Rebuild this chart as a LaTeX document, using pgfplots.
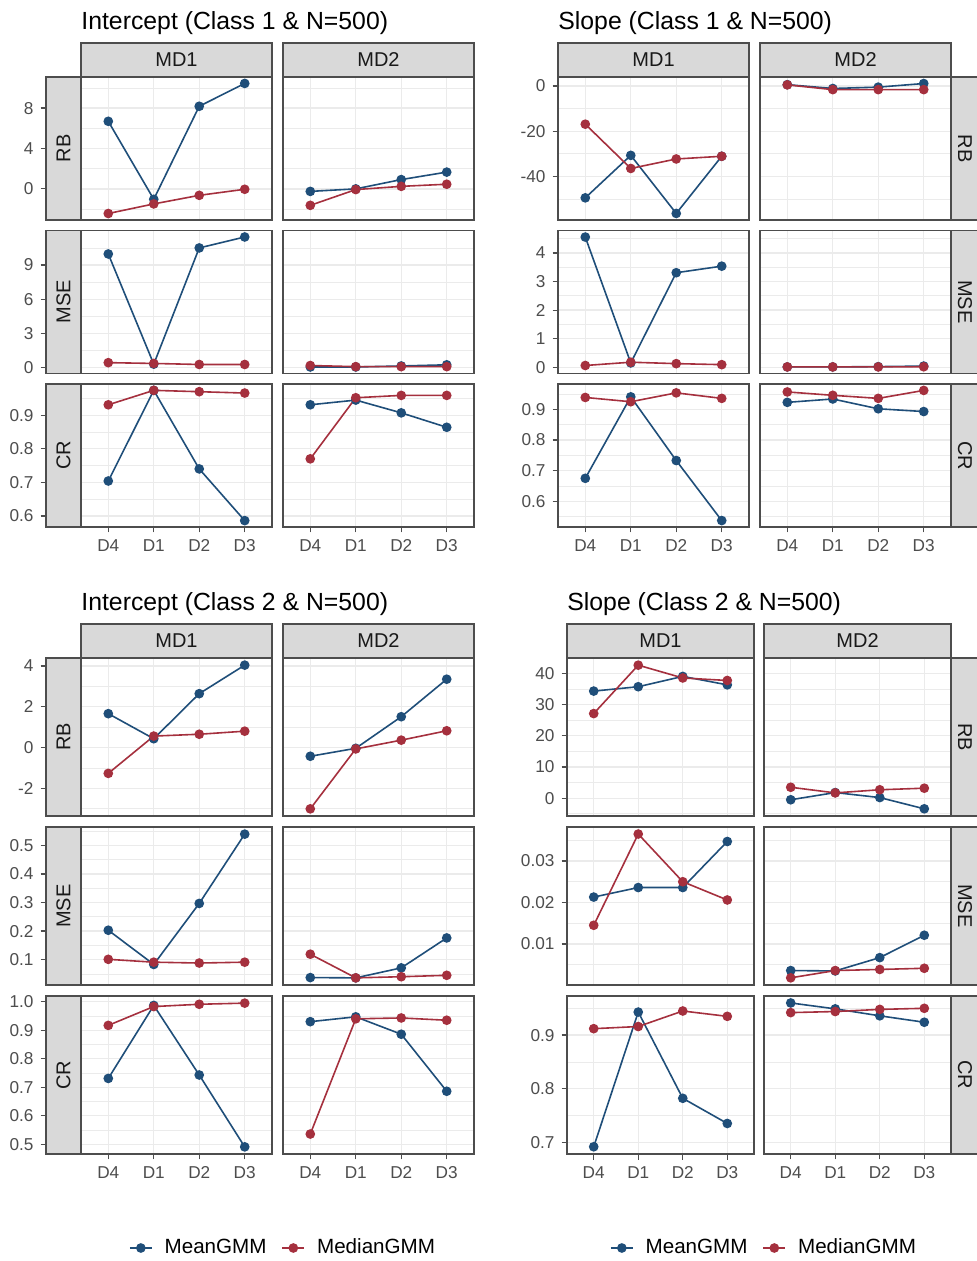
\documentclass[border=0pt]{standalone}
\usepackage{pgfplots}
\pgfplotsset{compat=1.18}
\usepackage{fontspec}
\setmainfont{Liberation Sans}

\definecolor{meanc}{HTML}{1F4E79}
\definecolor{medc}{HTML}{A5303E}
\definecolor{frame}{HTML}{4D4D4D}
\definecolor{stripc}{HTML}{D9D9D9}
\definecolor{gridc}{HTML}{EBEBEB}
\definecolor{tickc}{HTML}{4D4D4D}

\newcommand{\stripfont}{\fontsize{10}{12}\selectfont}
% facet strips drawn round a panel
\newcommand{\topstrip}[1]{%
  \draw[draw=frame, fill=stripc, line width=0.6pt] (rel axis cs:0,1) rectangle ([yshift=17pt]rel axis cs:1,1);
  \node[font=\stripfont, text=black!90] at ([yshift=8.5pt]rel axis cs:0.5,1) {#1};}
\newcommand{\lstrip}[1]{%
  \draw[draw=frame, fill=stripc, line width=0.6pt] ([xshift=-17.5pt]rel axis cs:0,0) rectangle (rel axis cs:0,1);
  \node[font=\stripfont, text=black!90, rotate=90] at ([xshift=-8.75pt]rel axis cs:0,0.5) {#1};}
\newcommand{\rstrip}[1]{%
  \draw[draw=frame, fill=stripc, line width=0.6pt] (rel axis cs:1,0) rectangle ([xshift=17.5pt]rel axis cs:1,1);
  \node[font=\stripfont, text=black!90, rotate=-90] at ([xshift=7pt]rel axis cs:1,0.5) {#1};}
\newcommand{\ttl}[1]{%
  \node[anchor=base west, inner sep=0pt, font=\fontsize{12.4}{14}\selectfont] at ([yshift=23.75pt]rel axis cs:0,1) {#1};}

\pgfplotsset{
  fac/.style={scale only axis, anchor=south west, clip=false,
    xmin=-0.6, xmax=3.6, xtick={0,1,2,3}, xticklabels={},
    scaled y ticks=false, tick pos=left,
    axis line style={draw=frame, line width=0.6pt},
    grid=both,
    major grid style={draw=gridc, line width=0.65pt},
    minor grid style={draw=gridc, line width=0.35pt},
    tick align=outside, major tick length=2.75pt, minor tick length=0pt,
    tick style={draw=frame, line width=0.6pt},
    ticklabel style={text=tickc, font=\fontsize{8.6}{10}\selectfont}},
  wd/.style={width=95.5pt},
  wn/.style={width=93.5pt},
  hi/.style={height=71.5pt},
  lo/.style={height=79pt},
  nox/.style={xtick style={draw=none}},
  xl/.style={xticklabels={D4,D1,D2,D3}},
  noy/.style={yticklabels={}, ytick style={draw=none}},
  lsh/.style={yticklabel style={xshift=-17.5pt}, ytick style={xshift=-17.5pt}},
  mean/.style={color=meanc, line width=0.8pt, mark=*, mark size=2pt, mark options={solid, fill=meanc}},
  med/.style={color=medc, line width=0.8pt, mark=*, mark size=2pt, mark options={solid, fill=medc}},
  leg/.style={legend style={at={(#1,-0.595)}, anchor=center, draw=none, fill=none,
      legend columns=-1, font=\fontsize{10.3}{12}\selectfont,
      /tikz/every even column/.append style={column sep=5.5pt}},
    legend image code/.code={\draw[mark repeat=2, mark phase=2, ##1] plot coordinates {(0pt,0pt) (5.5pt,0pt) (11pt,0pt)};
      \path (15pt,0pt);}},
  % y scales of the rows
  tlrb/.style={ymin=-3.08, ymax=11.08, ytick={0,4,8}, minor ytick={-2,2,6,10}},
  tlmse/.style={ymin=-0.51, ymax=12.03, ytick={0,3,6,9}, minor ytick={1.5,4.5,7.5,10.5}},
  tlcr/.style={ymin=0.567, ymax=0.993, ytick={0.6,0.7,0.8,0.9}, minor ytick={0.65,0.75,0.85,0.95}},
  trrb/.style={ymin=-59.3, ymax=4.0, ytick={-40,-20,0}, minor ytick={-50,-30,-10}},
  trmse/.style={ymin=-0.22, ymax=4.79, ytick={0,1,2,3,4}, minor ytick={0.5,1.5,2.5,3.5,4.5}},
  trcr/.style={ymin=0.516, ymax=0.983, ytick={0.6,0.7,0.8,0.9}, minor ytick={0.55,0.65,0.75,0.85,0.95}},
  blrb/.style={ymin=-3.36, ymax=4.39, ytick={-2,0,2,4}, minor ytick={-3,-1,1,3}},
  blmse/.style={ymin=0.011, ymax=0.565, ytick={0.1,0.2,0.3,0.4,0.5}, minor ytick={0.05,0.15,0.25,0.35,0.45,0.55}},
  blcr/.style={ymin=0.466, ymax=1.020, ytick={0.5,0.6,0.7,0.8,0.9,1.0}, minor ytick={0.55,0.65,0.75,0.85,0.95}},
  brrb/.style={ymin=-5.7, ymax=44.9, ytick={0,10,20,30,40}, minor ytick={-5,5,15,25,35}},
  brmse/.style={ymin=0.0001, ymax=0.0382, ytick={0.01,0.02,0.03}, minor ytick={0.005,0.015,0.025,0.035}},
  brcr/.style={ymin=0.678, ymax=0.973, ytick={0.7,0.8,0.9}, minor ytick={0.75,0.85,0.95}},
}

\begin{document}
\begin{tikzpicture}
\path[use as bounding box] (0,0) rectangle (488pt,630.5pt);

% ---------------- Intercept (Class 1 & N=500) ----------------
\begin{axis}[fac, wd, hi, nox, lsh, tlrb, yticklabels={0,4,8}, at={(40.5pt,520.5pt)}]
\addplot[mean] coordinates {(0,6.69) (1,-1.03) (2,8.18) (3,10.44)};
\addplot[med] coordinates {(0,-2.44) (1,-1.49) (2,-0.64) (3,-0.04)};
\topstrip{MD1}\lstrip{RB}\ttl{Intercept (Class 1 \& N=500)}
\end{axis}
\begin{axis}[fac, wd, hi, nox, noy, tlrb, at={(141.5pt,520.5pt)}]
\addplot[mean] coordinates {(0,-0.25) (1,0) (2,0.92) (3,1.66)};
\addplot[med] coordinates {(0,-1.63) (1,-0.07) (2,0.25) (3,0.46)};
\topstrip{MD2}
\end{axis}
\begin{axis}[fac, wd, hi, nox, lsh, tlmse, yticklabels={0,3,6,9}, at={(40.5pt,443.75pt)}]
\addplot[mean] coordinates {(0,9.97) (1,0.31) (2,10.5) (3,11.46)};
\addplot[med] coordinates {(0,0.44) (1,0.37) (2,0.28) (3,0.28)};
\lstrip{MSE}
\end{axis}
\begin{axis}[fac, wd, hi, nox, noy, tlmse, at={(141.5pt,443.75pt)}]
\addplot[mean] coordinates {(0,0.06) (1,0.06) (2,0.15) (3,0.25)};
\addplot[med] coordinates {(0,0.19) (1,0.09) (2,0.09) (3,0.09)};
\end{axis}
\begin{axis}[fac, wd, hi, xl, lsh, tlcr, yticklabels={0.6,0.7,0.8,0.9}, at={(40.5pt,367pt)}]
\addplot[mean] coordinates {(0,0.704) (1,0.974) (2,0.740) (3,0.586)};
\addplot[med] coordinates {(0,0.931) (1,0.974) (2,0.970) (3,0.966)};
\lstrip{CR}
\end{axis}
\begin{axis}[fac, wd, hi, xl, noy, tlcr, at={(141.5pt,367pt)}]
\addplot[mean] coordinates {(0,0.931) (1,0.945) (2,0.907) (3,0.864)};
\addplot[med] coordinates {(0,0.770) (1,0.952) (2,0.959) (3,0.959)};
\end{axis}

% ---------------- Slope (Class 1 & N=500) ----------------
\begin{axis}[fac, wd, hi, nox, trrb, yticklabels={-40,-20,0}, at={(279pt,520.5pt)}]
\addplot[mean] coordinates {(0,-49.5) (1,-30.7) (2,-56.4) (3,-31.1)};
\addplot[med] coordinates {(0,-16.9) (1,-36.5) (2,-32.3) (3,-31.1)};
\topstrip{MD1}\ttl{Slope (Class 1 \& N=500)}
\end{axis}
\begin{axis}[fac, wd, hi, nox, noy, trrb, at={(380pt,520.5pt)}]
\addplot[mean] coordinates {(0,0.6) (1,-1.1) (2,-0.5) (3,1.1)};
\addplot[med] coordinates {(0,0.5) (1,-1.6) (2,-1.6) (3,-1.6)};
\topstrip{MD2}\rstrip{RB}
\end{axis}
\begin{axis}[fac, wd, hi, nox, trmse, yticklabels={0,1,2,3,4}, at={(279pt,443.75pt)}]
\addplot[mean] coordinates {(0,4.56) (1,0.15) (2,3.31) (3,3.54)};
\addplot[med] coordinates {(0,0.06) (1,0.175) (2,0.125) (3,0.09)};
\end{axis}
\begin{axis}[fac, wd, hi, nox, noy, trmse, at={(380pt,443.75pt)}]
\addplot[mean] coordinates {(0,0.01) (1,0.01) (2,0.02) (3,0.04)};
\addplot[med] coordinates {(0,0.01) (1,0.01) (2,0.01) (3,0.015)};
\rstrip{MSE}
\end{axis}
\begin{axis}[fac, wd, hi, xl, trcr, yticklabels={0.6,0.7,0.8,0.9}, at={(279pt,367pt)}]
\addplot[mean] coordinates {(0,0.675) (1,0.941) (2,0.733) (3,0.537)};
\addplot[med] coordinates {(0,0.939) (1,0.925) (2,0.954) (3,0.936)};
\end{axis}
\begin{axis}[fac, wd, hi, xl, noy, trcr, at={(380pt,367pt)}]
\addplot[mean] coordinates {(0,0.923) (1,0.934) (2,0.902) (3,0.893)};
\addplot[med] coordinates {(0,0.957) (1,0.946) (2,0.936) (3,0.962)};
\rstrip{CR}
\end{axis}

% ---------------- Intercept (Class 2 & N=500) ----------------
\begin{axis}[fac, wd, lo, nox, lsh, blrb, yticklabels={-2,0,2,4}, at={(40.5pt,222.5pt)}]
\addplot[mean] coordinates {(0,1.66) (1,0.43) (2,2.64) (3,4.04)};
\addplot[med] coordinates {(0,-1.27) (1,0.56) (2,0.65) (3,0.80)};
\topstrip{MD1}\lstrip{RB}\ttl{Intercept (Class 2 \& N=500)}
\end{axis}
\begin{axis}[fac, wd, lo, nox, noy, blrb, at={(141.5pt,222.5pt)}]
\addplot[mean] coordinates {(0,-0.43) (1,-0.04) (2,1.51) (3,3.35)};
\addplot[med] coordinates {(0,-3.01) (1,-0.07) (2,0.36) (3,0.82)};
\topstrip{MD2}
\end{axis}
\begin{axis}[fac, wd, lo, nox, lsh, blmse, yticklabels={0.1,0.2,0.3,0.4,0.5}, at={(40.5pt,138pt)}]
\addplot[mean] coordinates {(0,0.203) (1,0.083) (2,0.297) (3,0.540)};
\addplot[med] coordinates {(0,0.101) (1,0.091) (2,0.088) (3,0.091)};
\lstrip{MSE}
\end{axis}
\begin{axis}[fac, wd, lo, nox, noy, blmse, at={(141.5pt,138pt)}]
\addplot[mean] coordinates {(0,0.037) (1,0.036) (2,0.071) (3,0.176)};
\addplot[med] coordinates {(0,0.119) (1,0.036) (2,0.040) (3,0.045)};
\end{axis}
\begin{axis}[fac, wd, lo, xl, lsh, blcr, yticklabels={0.5,0.6,0.7,0.8,0.9,1.0}, at={(40.5pt,53.5pt)}, leg=1.063]
\addplot[mean] coordinates {(0,0.731) (1,0.987) (2,0.743) (3,0.491)};
\addplot[med] coordinates {(0,0.917) (1,0.983) (2,0.991) (3,0.995)};
\legend{MeanGMM,MedianGMM}
\lstrip{CR}
\end{axis}
\begin{axis}[fac, wd, lo, xl, noy, blcr, at={(141.5pt,53.5pt)}]
\addplot[mean] coordinates {(0,0.930) (1,0.947) (2,0.886) (3,0.686)};
\addplot[med] coordinates {(0,0.536) (1,0.940) (2,0.943) (3,0.935)};
\end{axis}

% ---------------- Slope (Class 2 & N=500) ----------------
\begin{axis}[fac, wn, lo, nox, brrb, yticklabels={0,10,20,30,40}, at={(283.5pt,222.5pt)}]
\addplot[mean] coordinates {(0,34.3) (1,35.7) (2,39.0) (3,36.3)};
\addplot[med] coordinates {(0,27.1) (1,42.6) (2,38.5) (3,37.7)};
\topstrip{MD1}\ttl{Slope (Class 2 \& N=500)}
\end{axis}
\begin{axis}[fac, wn, lo, nox, noy, brrb, at={(382pt,222.5pt)}]
\addplot[mean] coordinates {(0,-0.5) (1,1.8) (2,0.2) (3,-3.4)};
\addplot[med] coordinates {(0,3.5) (1,1.7) (2,2.7) (3,3.2)};
\topstrip{MD2}\rstrip{RB}
\end{axis}
\begin{axis}[fac, wn, lo, nox, brmse, yticklabels={0.01,0.02,0.03}, at={(283.5pt,138pt)}]
\addplot[mean] coordinates {(0,0.0213) (1,0.0236) (2,0.0236) (3,0.0347)};
\addplot[med] coordinates {(0,0.0145) (1,0.0365) (2,0.0250) (3,0.0206)};
\end{axis}
\begin{axis}[fac, wn, lo, nox, noy, brmse, at={(382pt,138pt)}]
\addplot[mean] coordinates {(0,0.00358) (1,0.00349) (2,0.0067) (3,0.0121)};
\addplot[med] coordinates {(0,0.00183) (1,0.00358) (2,0.00385) (3,0.00413)};
\rstrip{MSE}
\end{axis}
\begin{axis}[fac, wn, lo, xl, brcr, yticklabels={0.7,0.8,0.9}, at={(283.5pt,53.5pt)}, leg=1.059]
\addplot[mean] coordinates {(0,0.6915) (1,0.943) (2,0.782) (3,0.735)};
\addplot[med] coordinates {(0,0.912) (1,0.916) (2,0.945) (3,0.935)};
\legend{MeanGMM,MedianGMM}
\end{axis}
\begin{axis}[fac, wn, lo, xl, noy, brcr, at={(382pt,53.5pt)}]
\addplot[mean] coordinates {(0,0.960) (1,0.949) (2,0.936) (3,0.924)};
\addplot[med] coordinates {(0,0.942) (1,0.944) (2,0.948) (3,0.950)};
\rstrip{CR}
\end{axis}
\end{tikzpicture}
\end{document}
